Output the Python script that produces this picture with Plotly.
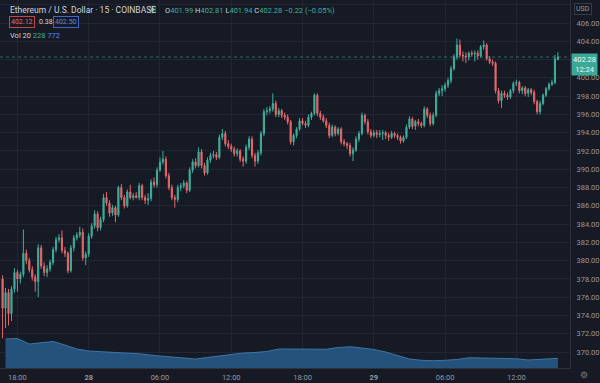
import pandas as pd
import plotly.graph_objects as go

# ---------------- data ----------------
opens = [378.0, 374.8, 376.5, 374.2, 376.9, 378.7, 378.0, 378.5, 380.8, 380.0,
         379.0, 378.2, 377.7, 381.4, 379.4, 378.7, 379.1, 379.8, 381.2, 382.3,
         382.5, 381.1, 380.8, 378.9, 381.4, 382.5, 382.8, 383.1, 380.3, 380.7,
         382.7, 383.8, 385.1, 383.6, 384.5, 386.9, 386.3, 385.2, 385.8, 385.0,
         388.0, 386.9, 386.0, 387.5, 386.9, 387.1, 386.9, 388.2, 386.9, 386.6,
         386.8, 388.6, 388.3, 389.9, 390.8, 391.1, 389.3, 388.0, 386.9, 386.7,
         388.0, 388.2, 388.5, 387.7, 389.9, 390.8, 390.4, 391.9, 390.4, 389.6,
         391.0, 391.5, 391.6, 391.3, 393.5, 393.9, 392.8, 392.5, 392.2, 391.7,
         392.0, 391.1, 390.9, 392.4, 393.3, 391.5, 390.9, 391.8, 393.9, 396.3,
         396.4, 396.6, 397.2, 396.0, 396.4, 395.9, 395.7, 395.2, 393.0, 393.7,
         394.4, 395.3, 395.0, 394.8, 395.7, 396.1, 398.1, 396.1, 395.7, 395.3,
         394.8, 393.7, 394.6, 393.9, 394.4, 393.0, 392.8, 392.6, 391.7, 392.1,
         393.3, 393.9, 395.9, 395.2, 394.1, 393.7, 394.0, 393.8, 393.9, 394.0,
         393.7, 393.5, 393.9, 393.7, 393.5, 393.1, 393.5, 394.6, 395.5, 394.7,
         395.2, 395.0, 394.8, 396.6, 395.9, 395.0, 395.9, 398.3, 398.6, 398.8,
         399.2, 399.7, 401.0, 402.3, 403.6, 402.5, 402.4, 402.3, 402.7, 402.6,
         402.7, 402.4, 403.4, 403.6, 402.1, 401.75, 401.6, 398.6, 397.5, 398.3,
         398.1, 397.9, 398.6, 399.4, 399.5, 398.6, 398.9, 398.3, 398.7, 398.4,
         397.4, 396.3, 397.2, 398.1, 398.8, 399.3, 399.5, 401.99]
highs = [378.4, 377.0, 376.9, 377.2, 379.2, 379.0, 378.8, 383.4, 381.2, 380.3,
         379.4, 378.5, 381.8, 381.7, 379.8, 379.5, 380.1, 381.5, 382.6, 382.9,
         383.3, 381.5, 381.0, 381.7, 382.8, 383.1, 383.7, 383.5, 381.0, 383.0,
         384.1, 385.5, 385.4, 384.8, 387.3, 387.5, 386.6, 386.1, 386.0, 388.2,
         388.4, 387.2, 387.8, 388.3, 387.4, 387.5, 388.5, 388.4, 387.2, 387.4,
         388.9, 389.1, 390.2, 391.3, 392.0, 391.4, 389.6, 388.3, 387.2, 388.3,
         388.5, 388.8, 388.7, 390.2, 391.1, 391.2, 392.4, 392.2, 390.7, 391.3,
         391.8, 392.0, 391.9, 393.8, 394.4, 394.2, 393.2, 392.8, 392.5, 392.3,
         392.2, 391.4, 392.7, 393.6, 393.6, 391.8, 392.1, 394.2, 396.6, 396.8,
         396.9, 398.3, 397.5, 396.7, 396.6, 396.2, 396.0, 395.4, 393.9, 394.6,
         395.6, 395.6, 395.3, 396.0, 396.3, 398.3, 398.3, 396.4, 396.0, 395.6,
         395.1, 394.9, 394.8, 394.6, 394.6, 393.3, 393.0, 392.9, 392.4, 393.6,
         394.2, 396.2, 396.1, 395.5, 394.4, 394.3, 394.3, 394.3, 394.3, 394.2,
         394.0, 394.2, 394.1, 393.9, 393.7, 393.7, 394.9, 395.8, 395.7, 395.4,
         395.5, 395.2, 396.9, 396.8, 396.2, 396.2, 398.6, 398.9, 399.2, 399.5,
         400.0, 401.3, 402.6, 404.3, 404.2, 402.9, 402.8, 402.9, 403.0, 403.0,
         403.0, 403.6, 404.1, 403.8, 402.4, 402.0, 401.8, 398.9, 398.6, 398.6,
         398.4, 398.8, 399.6, 399.8, 399.7, 399.1, 399.1, 398.9, 398.9, 398.7,
         397.6, 397.5, 398.3, 399.0, 399.5, 399.8, 402.5, 402.81]
lows = [371.5, 372.6, 372.9, 373.4, 376.5, 376.6, 377.5, 378.2, 379.6, 378.7,
        377.8, 376.6, 376.0, 379.1, 378.3, 378.2, 378.8, 379.5, 380.9, 382.0,
        380.8, 380.4, 378.6, 378.7, 381.0, 382.2, 382.5, 380.0, 379.5, 380.4,
        382.4, 383.5, 383.2, 383.3, 384.2, 386.0, 384.8, 384.9, 384.2, 384.8,
        386.6, 385.7, 385.8, 386.7, 386.6, 386.8, 386.6, 386.6, 386.2, 386.1,
        386.5, 388.0, 388.0, 389.7, 390.5, 389.0, 387.7, 386.6, 385.8, 386.4,
        387.6, 387.9, 387.4, 387.5, 389.6, 390.1, 390.2, 390.1, 389.3, 389.4,
        390.7, 391.2, 391.0, 391.1, 393.2, 392.5, 392.2, 391.9, 391.4, 391.4,
        390.8, 390.3, 390.6, 392.1, 391.2, 390.3, 390.6, 391.5, 393.6, 395.9,
        396.1, 396.3, 395.7, 395.7, 395.6, 395.4, 394.9, 392.7, 392.6, 393.4,
        394.2, 394.8, 394.5, 394.6, 395.4, 395.9, 395.8, 395.4, 395.1, 394.5,
        393.4, 393.5, 393.6, 393.7, 392.7, 392.5, 392.2, 391.4, 390.9, 391.9,
        393.0, 393.7, 394.9, 393.8, 393.4, 393.5, 393.4, 393.5, 393.2, 393.3,
        393.1, 393.3, 393.4, 393.2, 392.8, 392.9, 393.3, 394.4, 394.4, 394.3,
        394.7, 394.5, 394.6, 395.6, 394.7, 394.8, 395.7, 398.0, 398.0, 398.5,
        398.9, 399.4, 400.8, 402.0, 402.2, 401.8, 401.6, 401.9, 402.3, 401.8,
        402.0, 402.2, 403.1, 401.9, 401.5, 401.3, 398.3, 397.2, 396.7, 397.8,
        397.6, 397.7, 398.3, 399.1, 398.3, 398.2, 398.0, 397.9, 398.1, 397.1,
        396.0, 396.0, 397.0, 397.9, 398.6, 399.1, 399.3, 401.94]
closes = [374.8, 376.5, 374.2, 376.9, 378.7, 378.0, 378.5, 380.8, 380.0, 379.0,
          378.2, 377.7, 381.4, 379.4, 378.7, 379.1, 379.8, 381.2, 382.3, 382.5,
          381.1, 380.8, 378.9, 381.4, 382.5, 382.8, 383.1, 380.3, 380.7, 382.7,
          383.8, 385.1, 383.6, 384.5, 386.9, 386.3, 385.2, 385.8, 385.0, 388.0,
          386.9, 386.0, 387.5, 386.9, 387.1, 386.9, 388.2, 386.9, 386.6, 386.8,
          388.6, 388.3, 389.9, 390.8, 391.1, 389.3, 388.0, 386.9, 386.7, 388.0,
          388.2, 388.5, 387.7, 389.9, 390.8, 390.4, 391.9, 390.4, 389.6, 391.0,
          391.5, 391.6, 391.3, 393.5, 393.9, 392.8, 392.5, 392.2, 391.7, 392.0,
          391.1, 390.9, 392.4, 393.3, 391.5, 390.9, 391.8, 393.9, 396.3, 396.4,
          396.6, 397.2, 396.0, 396.4, 395.9, 395.7, 395.2, 393.0, 393.7, 394.4,
          395.3, 395.0, 394.8, 395.7, 396.1, 398.1, 396.1, 395.7, 395.3, 394.8,
          393.7, 394.6, 393.9, 394.4, 393.0, 392.8, 392.6, 391.7, 392.1, 393.3,
          393.9, 395.9, 395.2, 394.1, 393.7, 394.0, 393.8, 393.9, 394.0, 393.7,
          393.5, 393.9, 393.7, 393.5, 393.1, 393.5, 394.6, 395.5, 394.7, 395.2,
          395.0, 394.8, 396.6, 395.9, 395.0, 395.9, 398.3, 398.6, 398.8, 399.2,
          399.7, 401.0, 402.3, 403.6, 402.5, 402.4, 402.3, 402.7, 402.6, 402.7,
          402.4, 403.4, 403.6, 402.1, 401.75, 401.6, 398.6, 397.5, 398.3, 398.1,
          397.9, 398.6, 399.4, 399.5, 398.6, 398.9, 398.3, 398.7, 398.4, 397.4,
          396.3, 397.2, 398.1, 398.8, 399.3, 399.5, 402.1, 402.28]
candle_times = pd.date_range("2020-08-27 16:45", periods=len(closes), freq="15min")

# volume 20-period MA, read hourly (17:00 day 27 .. 15:00 day 29) plus the last bar
vol_ma = [2320, 2360, 1920, 2000, 2120, 1840, 1520, 1360, 1300, 1200,
          1200, 1160, 1040, 960, 880, 820, 720, 840, 960, 1120,
          1200, 1240, 1320, 1520, 1520, 1520, 1520, 1500, 1640, 1700,
          1600, 1480, 1280, 1000, 720, 620, 580, 620, 680, 820,
          800, 780, 780, 740, 640, 700, 760, 772]
vol_times = list(pd.date_range("2020-08-27 17:00", periods=len(vol_ma) - 1, freq="1h")) + [candle_times[-1]]

price_ticks = list(range(370, 410, 2))
# labels hidden behind the USD badge (408) and the last-price badge (402)
hidden_price_labels = [402, 408]
price_tick_text = ["" if v in hidden_price_labels else f"{v:.2f}" for v in price_ticks]
time_tick_vals = ["2020-08-27 18:00", "2020-08-28 00:00", "2020-08-28 06:00", "2020-08-28 12:00",
                  "2020-08-28 18:00", "2020-08-29 00:00", "2020-08-29 06:00", "2020-08-29 12:00"]
time_tick_text = ["18:00", "<b>28</b>", "06:00", "12:00", "18:00", "<b>29</b>", "06:00", "12:00"]

# ---------------- style ----------------
BG = "#161a25"
GRID = "#222634"
UP = "#3fae9c"
DOWN = "#e4686a"
TXT = "#d1d4dc"
AX = "#9598a1"
FONT = "Roboto"
W, H = 600, 383
ML, MR, MT, MB = 0, 28, 0, 15
PW, PH = W - ML - MR, H - MT - MB


def px(x):
    return x / PW


def py(y):
    return 1 - y / PH


fig = go.Figure()

fig.add_trace(go.Scatter(
    x=vol_times, y=vol_ma, yaxis="y2", mode="lines",
    line=dict(color="#3b77a8", width=1), fill="tozeroy", fillcolor="#24527a",
    hoverinfo="skip", showlegend=False))

fig.add_trace(go.Candlestick(
    x=candle_times, open=opens, high=highs, low=lows, close=closes,
    increasing=dict(line=dict(color=UP, width=1), fillcolor=UP),
    decreasing=dict(line=dict(color=DOWN, width=1), fillcolor=DOWN),
    whiskerwidth=0, showlegend=False))

fig.update_layout(
    width=W, height=H,
    margin=dict(l=ML, r=MR, t=MT, b=MB, pad=0),
    paper_bgcolor=BG, plot_bgcolor=BG,
    font=dict(family=FONT, color=AX, size=7.5),
    boxgap=0.45,
    xaxis=dict(
        type="date", range=["2020-08-27 16:32", "2020-08-29 16:31"],
        rangeslider=dict(visible=False),
        tickvals=time_tick_vals, ticktext=time_tick_text,
        showgrid=True, gridcolor=GRID, gridwidth=1,
        showline=True, linecolor="#2e3240", linewidth=1,
        ticks="", zeroline=False, tickfont=dict(size=7.5, color=AX),
        ticklabelstandoff=2,
    ),
    yaxis=dict(
        side="right", range=[368.25, 408.52],
        tickvals=price_ticks, ticktext=price_tick_text,
        showgrid=True, gridcolor=GRID, gridwidth=1,
        showline=True, linecolor="#2e3240", linewidth=1,
        ticks="", zeroline=False, tickfont=dict(size=7.5, color=AX),
        ticklabelstandoff=4,
    ),
    yaxis2=dict(overlaying="y", range=[0, 80 * PH], visible=False, showgrid=False),
    hovermode=False,
)

# last price line
fig.add_shape(type="line", xref="paper", x0=0, x1=1, yref="y", y0=closes[-1], y1=closes[-1],
              line=dict(color="rgba(63,174,156,0.55)", width=1, dash="dot"))

# market-open status dot (ring + core)
fig.add_shape(type="circle", xref="paper", yref="paper",
              x0=px(149), x1=px(157), y0=py(13.5), y1=py(5.5),
              fillcolor="rgba(63,174,156,0.3)", line=dict(width=0))
fig.add_shape(type="circle", xref="paper", yref="paper",
              x0=px(151.3), x1=px(154.7), y0=py(11.2), y1=py(7.8),
              fillcolor=UP, line=dict(width=0))

ann = []
ann.append(dict(x=px(8), y=py(10), text="Ethereum / U.S. Dollar · 15 · COINBASE",
                font=dict(size=8.5, color=TXT)))
o, h, l, c = opens[-1], highs[-1], lows[-1], closes[-1]
ohlc_txt = (f"O<span style='color:{UP}'>{o:.2f}</span> H<span style='color:{UP}'>{h:.2f}</span> "
            f"L<span style='color:{UP}'>{l:.2f}</span> C<span style='color:{UP}'>{c:.2f}</span> "
            f"<span style='color:{UP}'>−0.22 (−0.05%)</span>")
ann.append(dict(x=px(164), y=py(10), text=ohlc_txt, font=dict(size=7.5, color=TXT)))
ann.append(dict(x=px(9), y=py(22), text="402.12", font=dict(size=7, color="#e4686a"),
                bordercolor="#c2474b", borderwidth=1, borderpad=1))
ann.append(dict(x=px(37), y=py(22), text="0.38", font=dict(size=7, color=TXT)))
ann.append(dict(x=px(53), y=py(22), text="402.50", font=dict(size=7, color="#5b86e5"),
                bordercolor="#3f67c9", borderwidth=1, borderpad=1))
ann.append(dict(x=px(8), y=py(35.5), text="Vol 20 <span style='color:#3fae9c'>228</span> "
                "<span style='color:#5b86e5'>772</span>", font=dict(size=7.5, color=TXT)))
for a in ann:
    a.update(xref="paper", yref="paper", xanchor="left", yanchor="middle", showarrow=False)
    fig.add_annotation(**a)

# axis-side labels
fig.add_annotation(xref="paper", yref="paper", x=px(585), y=py(9), text="USD", showarrow=False,
                   xanchor="center", yanchor="middle", font=dict(size=7, color=AX),
                   bgcolor=BG, bordercolor="#363a45", borderwidth=1, borderpad=1)
fig.add_annotation(xref="paper", yref="y", x=px(573), y=closes[-1], yshift=4, text="402.28<br>12:24",
                   showarrow=False, xanchor="left", yanchor="top", align="center",
                   font=dict(size=7.5, color="#f0f3fa"), bgcolor="#3aa997", borderpad=1)
fig.add_annotation(xref="paper", yref="paper", x=px(586), y=py(375), text="⚙", showarrow=False,
                   xanchor="center", yanchor="middle", font=dict(size=9, color="#787b86"))

fig.write_html("out.html")
